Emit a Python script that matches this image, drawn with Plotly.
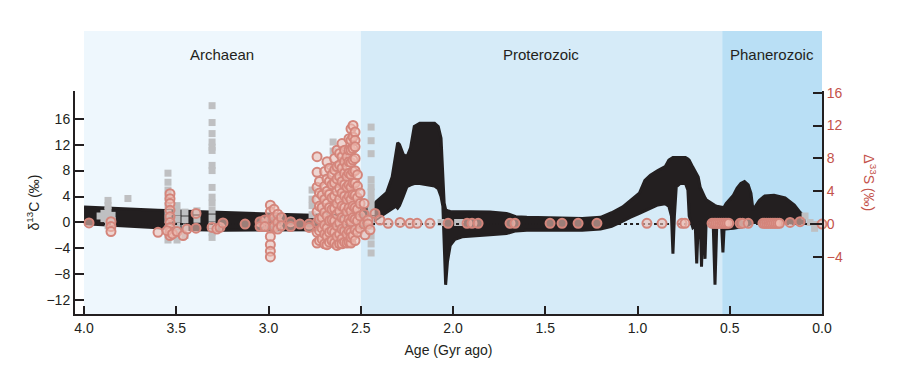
import plotly.graph_objects as go

# ---------------- data ----------------
# delta13C carbonate envelope (black band): age (Gyr), upper and lower bound (permil)
band_age = [4.00, 3.80, 3.60, 3.40, 3.24, 3.00, 2.76, 2.60, 2.55, 2.50, 2.48, 2.44, 2.40, 2.36, 2.33,
            2.31, 2.30, 2.29, 2.27, 2.25, 2.23, 2.21, 2.18, 2.10, 2.08, 2.065, 2.055, 2.048, 2.040,
            2.030, 2.015, 1.99, 1.95, 1.80, 1.71, 1.66, 1.60, 1.45, 1.30, 1.20, 1.14, 1.08, 1.04,
            0.99, 0.96, 0.93, 0.89, 0.85, 0.83, 0.816, 0.808, 0.800, 0.79, 0.77, 0.74, 0.727, 0.72,
            0.70, 0.687, 0.679, 0.671, 0.660, 0.653, 0.646, 0.640, 0.634, 0.628, 0.60, 0.590, 0.580,
            0.570, 0.545, 0.537, 0.530, 0.52, 0.48, 0.46, 0.44, 0.42, 0.40, 0.385, 0.374, 0.36, 0.34,
            0.31, 0.26, 0.20, 0.15, 0.12, 0.09]
band_upper = [2.4, 2.1, 1.9, 1.7, 1.5, 1.3, 1.1, 1.3, 1.8, 2.2, 2.0, 2.6, 3.6, 4.6, 7.0,
              11.0, 12.3, 12.0, 10.5, 10.1, 11.5, 14.8, 15.3, 15.3, 14.8, 13.0, 6.0, 3.0, 2.0,
              1.8, 1.7, 1.7, 1.7, 1.6, 1.4, 0.9, 0.8, 0.7, 0.6, 0.8, 1.5, 2.4, 3.4,
              4.5, 6.5, 7.3, 8.0, 8.6, 9.6, 9.9, 10.0, 10.0, 10.0, 10.1, 10.0, 9.8, 9.6,
              8.5, 7.8, 7.5, 7.0, 5.4, 4.9, 4.5, 4.0, 3.8, 3.5, 2.9, 2.7, 2.6,
              2.5, 2.3, 2.3, 2.4, 2.9, 4.2, 5.3, 6.0, 6.3, 5.8, 4.5, 1.9, 2.5, 3.4,
              4.1, 4.2, 3.8, 2.7, 1.6, 0.7]
band_lower = [-0.2, -0.5, -0.8, -1.1, -1.2, -1.2, -1.1, -1.1, -1.0, -0.9, -0.5, 0.0, 0.8, 1.6, 2.2,
              2.5, 2.2, 2.6, 4.0, 5.5, 5.8, 6.0, 6.0, 5.6, 5.2, 4.0, 2.5, -3.5, -9.6,
              -6.0, -3.5, -2.6, -2.2, -1.9, -1.7, -1.3, -1.2, -1.2, -1.2, -1.0, -0.6, 0.2, 0.8,
              1.4, 1.8, 2.2, 2.7, 2.9, 2.5, 1.0, -4.8, 1.0, 5.5, 6.0, 6.0, 5.0, 1.0,
              -0.8, -0.5, -6.3, -0.3, 0.0, -6.8, 0.0, 0.0, -5.6, 0.2, 0.3, 0.0, -9.6,
              0.0, 0.0, -4.6, -0.5, -1.0, -0.9, -0.8, -0.8, -0.6, -0.4, -0.2, 0.0, 0.0, 0.1,
              0.2, 0.2, 0.0, -0.1, -0.1, 0.0]

# delta13C organic (grey squares)
c13_age = [3.913, 3.892, 3.892, 3.870, 3.870, 3.870, 3.870, 3.870, 3.870, 3.848, 3.848, 3.848, 3.762,
           3.545, 3.545, 3.545, 3.545, 3.545, 3.545, 3.545, 3.545, 3.545, 3.545,
           3.496, 3.496, 3.496, 3.496, 3.496, 3.496, 3.453, 3.453, 3.453, 3.453, 3.388, 3.388,
           3.306, 3.306, 3.306, 3.306, 3.306, 3.306, 3.306, 3.306, 3.306, 3.306, 3.306, 3.306,
           3.306, 3.306, 3.306, 3.306,
           2.764, 2.764, 2.764, 2.764, 2.71, 2.71, 2.71, 2.71,
           2.65, 2.65, 2.65, 2.65, 2.65, 2.65, 2.65, 2.612, 2.612, 2.612,
           2.575, 2.575, 2.575, 2.575, 2.531, 2.531,
           2.444, 2.444, 2.444, 2.444, 2.444, 2.444, 2.444, 2.444, 2.444, 2.444, 2.444, 2.444,
           2.444, 2.444,
           2.065, 1.975, 1.96, 0.092, 0.065, 0.040, 0.030]
c13_val = [1.0, 1.4, 0.6, 3.4, 2.6, 1.8, 1.0, 0.2, -0.5, 1.1, 0.3, -0.4, 3.7,
           7.6, 6.2, 5.0, 3.8, 2.6, 1.4, 0.3, -0.8, -1.8, -2.7,
           2.6, 1.6, 0.5, -0.6, -1.7, -2.7, 1.6, 0.4, -0.8, -2.0, 1.8, 0.5,
           18.0, 15.4, 13.7, 12.4, 11.6, 11.1, 8.8, 8.0, 5.4, 3.9, 3.0, 1.9,
           0.7, -0.4, -1.5, -2.3,
           5.0, 3.6, 2.6, 1.2, 4.0, 2.0, 0.5, -1.0,
           12.4, 11.0, 8.5, 6.0, 3.0, 0.0, -1.5, 9.0, 7.0, 4.5,
           6.0, 3.5, 1.0, -1.5, 2.0, -0.5,
           14.7, 12.6, 10.6, 6.6, 5.5, 4.7, 3.7, 2.7, 1.7, 0.4, -0.6, -2.1,
           -3.3, -4.7,
           0.0, 0.0, 0.0, 1.0, 0.0, -0.9, -0.3]

# Delta33S (salmon circles, right axis)
s33_age = [3.973, 3.854, 3.854, 3.854, 3.599,
           3.534, 3.534, 3.534, 3.534, 3.534, 3.534, 3.534, 3.534, 3.534,
           3.55, 3.52, 3.496, 3.463, 3.442, 3.393, 3.393, 3.306, 3.28, 3.263,
           3.247, 3.127, 3.046, 3.046,
           2.99, 2.99, 2.99, 2.99, 2.99, 2.99, 2.99, 2.99,
           2.97, 2.97, 2.97, 2.95, 2.95, 2.95, 2.93, 2.93, 3.02, 3.02, 2.88, 2.88, 2.83, 2.78, 2.78,
           2.737, 2.737, 2.737, 2.737, 2.737, 2.737, 2.737, 2.737,
           2.724, 2.724, 2.724, 2.724, 2.724, 2.724,
           2.71, 2.71, 2.71, 2.71, 2.71,
           2.696, 2.696, 2.696, 2.696, 2.696, 2.696, 2.696,
           2.683, 2.683, 2.683, 2.683, 2.683, 2.683, 2.683, 2.683,
           2.67, 2.67, 2.67, 2.67, 2.67, 2.67, 2.67,
           2.656, 2.656, 2.656, 2.656, 2.656, 2.656, 2.656,
           2.642, 2.642, 2.642, 2.642, 2.642, 2.642, 2.642, 2.642,
           2.629, 2.629, 2.629, 2.629, 2.629, 2.629, 2.629, 2.629, 2.629,
           2.615, 2.615, 2.615, 2.615, 2.615, 2.615, 2.615, 2.615, 2.615,
           2.602, 2.602, 2.602, 2.602, 2.602, 2.602, 2.602, 2.602, 2.602, 2.602,
           2.588, 2.588, 2.588, 2.588, 2.588, 2.588, 2.588, 2.588, 2.588,
           2.575, 2.575, 2.575, 2.575, 2.575, 2.575, 2.575, 2.575, 2.575,
           2.564, 2.564, 2.564, 2.564, 2.564, 2.564, 2.564, 2.564, 2.564, 2.564,
           2.553, 2.553, 2.553, 2.553, 2.553, 2.553, 2.553, 2.553, 2.553, 2.553, 2.553, 2.553,
           2.542, 2.542, 2.542, 2.542, 2.542, 2.542, 2.542, 2.542, 2.542, 2.542,
           2.531, 2.531, 2.531, 2.531, 2.531, 2.531, 2.531, 2.531, 2.531, 2.531, 2.531,
           2.518, 2.518, 2.518, 2.518, 2.518, 2.518,
           2.504, 2.504, 2.504, 2.504, 2.482, 2.482, 2.482, 2.461, 2.461,
           2.477, 2.45, 2.423, 2.396, 2.352, 2.287, 2.233, 2.195, 2.125, 2.027,
           1.924, 1.897, 1.864, 1.691, 1.664, 1.474, 1.409, 1.322, 1.220,
           0.949, 0.867, 0.759, 0.743, 0.596, 0.585, 0.575, 0.565, 0.555, 0.545, 0.535, 0.525, 0.515, 0.505,
           0.444, 0.43, 0.40, 0.32, 0.31, 0.30, 0.29, 0.28, 0.27, 0.26, 0.25, 0.24, 0.23, 0.173, 0.119, 0.0]
s33_val = [0.15, 0.3, -0.3, -0.9, -1.0,
           3.7, 3.1, 2.5, 1.7, 0.9, 0.2, -0.4, -1.0, -1.4,
           -0.8, -1.2, -0.9, -1.4, -0.6, 1.3, -0.5, -0.4, -0.6, -0.4,
           0.15, 0.0, 0.3, -0.3,
           2.3, 1.5, 0.5, -0.5, -1.5, -2.5, -3.3, -4.0,
           1.8, 0.8, -0.3, 1.2, 0.2, -0.6, 0.8, -0.2, 0.5, -0.3, 0.3, -0.3, 0.0, 0.0, -0.4,
           8.2, 6.3, 4.5, 3.0, 1.5, 0.2, -1.0, -2.3,
           5.2, 3.8, 2.2, 0.6, -0.8, -2.0,
           3.5, 2.0, 0.8, -0.5, -1.8,
           6.4, 4.6, 3.0, 1.4, -0.1, -1.2, -2.4,
           7.6, 5.5, 4.0, 2.5, 1.0, -0.5, -1.5, -2.5,
           6.8, 5.2, 3.6, 2.0, 0.4, -1.0, -2.2,
           6.0, 4.8, 3.2, 1.8, 0.5, -0.8, -2.0,
           8.0, 6.6, 5.0, 3.4, 1.9, 0.4, -1.0, -2.3,
           9.0, 7.0, 5.5, 4.0, 2.5, 1.2, -0.2, -1.5, -2.6,
           8.6, 7.2, 5.8, 4.4, 3.0, 1.6, 0.2, -1.2, -2.4,
           9.8, 8.2, 6.8, 5.2, 3.8, 2.2, 0.8, -0.6, -1.8, -2.4,
           9.0, 7.6, 6.2, 4.8, 3.4, 2.0, 0.6, -0.8, -2.2,
           8.2, 7.0, 5.8, 4.5, 3.0, 1.5, 0.0, -1.2, -2.3,
           10.4, 9.0, 7.6, 6.2, 4.8, 3.4, 2.0, 0.6, -0.8, -2.2,
           11.6, 10.2, 9.0, 7.5, 6.0, 4.5, 3.0, 1.6, 0.3, -1.0, -2.3, -1.6,
           12.0, 10.6, 9.2, 7.8, 6.4, 5.0, 3.6, 2.2, 0.8, -1.4,
           11.2, 10.2, 9.4, 8.0, 6.5, 5.0, 3.5, 2.0, 0.6, -0.7, -2.0,
           6.0, 4.6, 3.2, 1.8, 0.4, -1.0,
           3.8, 2.5, 1.0, -0.5, 2.5, 1.2, 0.0, 0.5, 0.0,
           -1.3, -0.7, 1.3, 0.5, 0.1, 0.2, 0.1, 0.1, 0.1, 0.1,
           0.1, 0.1, 0.1, 0.1, 0.1, 0.1, 0.1, 0.1, 0.1,
           0.1, 0.1, 0.1, 0.1, 0.1, 0.1, 0.1, 0.1, 0.1, 0.1, 0.1, 0.1, 0.1, 0.1,
           0.1, 0.1, 0.1, 0.1, 0.1, 0.1, 0.1, 0.1, 0.1, 0.1, 0.1, 0.1, 0.1, 0.2, 0.3, 0.0]

# eons
eon_names = ["Archaean", "Proterozoic", "Phanerozoic"]
eon_start = [4.0, 2.5, 0.541]
eon_end = [2.5, 0.541, 0.0]
eon_colors = ["#eef7fd", "#d6ebf8", "#b9dff5"]

x_ticks = [4.0, 3.5, 3.0, 2.5, 2.0, 1.5, 1.0, 0.5, 0.0]
c13_ticks = [-12, -8, -4, 0, 4, 8, 12, 16]
s33_ticks = [-4, 0, 4, 8, 12, 16]

# ---------------- figure ----------------
INK = "#231f20"
RED = "#c4534b"
FONT = "Liberation Sans, Arial, sans-serif"

fig = go.Figure()

fig.add_trace(go.Scatter(x=band_age, y=band_upper, mode="lines",
                         line=dict(color=INK, width=3),
                         hoverinfo="skip", showlegend=False))
fig.add_trace(go.Scatter(x=band_age, y=band_lower, mode="lines", fill="tonexty",
                         fillcolor=INK, line=dict(color=INK, width=3),
                         hoverinfo="skip", showlegend=False))

fig.add_trace(go.Scatter(x=c13_age, y=c13_val, mode="markers",
                         marker=dict(symbol="square", size=7, color="#bfc0c2"),
                         showlegend=False))

fig.add_trace(go.Scatter(x=[4.0, 0.0], y=[0, 0], mode="lines", yaxis="y2",
                         line=dict(color=INK, width=2, dash="dot"),
                         hoverinfo="skip", showlegend=False))

fig.add_trace(go.Scatter(x=s33_age, y=s33_val, mode="markers", yaxis="y2",
                         cliponaxis=False,
                         marker=dict(symbol="circle", size=9,
                                     color="rgba(238,190,180,0.6)",
                                     line=dict(color="#d4857b", width=2)),
                         showlegend=False))

# geometry (page is offset 8 px by the browser's body margin)
PLOT_TOP, PLOT_BOTTOM = 83, 306
top_paper = (PLOT_BOTTOM - 23) / (PLOT_BOTTOM - PLOT_TOP)
label_paper = (PLOT_BOTTOM - 47) / (PLOT_BOTTOM - PLOT_TOP)
for name, s, e, c in zip(eon_names, eon_start, eon_end, eon_colors):
    fig.add_shape(type="rect", xref="x", yref="paper", x0=s, x1=e, y0=0, y1=top_paper,
                  fillcolor=c, line=dict(width=0), layer="below")
    fig.add_annotation(x=(s + e) / 2, xref="x", y=label_paper, yref="paper",
                       xanchor="center", yanchor="middle",
                       text=name, showarrow=False, font=dict(size=15, color=INK, family=FONT))

fig.add_annotation(x=1.063, xref="paper", y=0.59, yref="paper", text="Δ<sup>33</sup>S (‰)",
                   xanchor="center", yanchor="middle",
                   textangle=90, showarrow=False, font=dict(size=14, color=RED, family=FONT))

fig.update_layout(
    width=902, height=363,
    margin=dict(l=67, r=88, t=PLOT_TOP, b=363 - PLOT_BOTTOM),
    paper_bgcolor="white", plot_bgcolor="rgba(0,0,0,0)",
    font=dict(family=FONT, size=14, color=INK),
    xaxis=dict(range=[4.049, 0.0], tickvals=x_ticks,
               ticktext=["%.1f" % v for v in x_ticks],
               ticks="inside", ticklen=8, tickwidth=2, tickcolor=INK,
               showline=True, linewidth=2, linecolor=INK, showgrid=False, zeroline=False,
               title=dict(text="Age (Gyr ago)", standoff=10, font=dict(size=14))),
    yaxis=dict(range=[-14.1, 20.26], tickvals=c13_ticks,
               ticktext=[("−%d" % -v) if v < 0 else str(v) for v in c13_ticks],
               ticks="inside", ticklen=9, tickwidth=2, tickcolor=INK,
               showline=True, linewidth=2, linecolor=INK, showgrid=False, zeroline=False,
               title=dict(text="δ<sup>13</sup>C (‰)", standoff=4, font=dict(size=14))),
    yaxis2=dict(range=[-10.94, 16.2], overlaying="y", side="right", tickvals=s33_ticks,
                ticktext=[("−%d" % -v) if v < 0 else str(v) for v in s33_ticks],
                ticks="inside", ticklen=9, tickwidth=2, tickcolor=INK,
                tickfont=dict(color=RED, size=14),
                showline=True, linewidth=2, linecolor=INK, showgrid=False, zeroline=False),
)

fig.write_html("out.html")
